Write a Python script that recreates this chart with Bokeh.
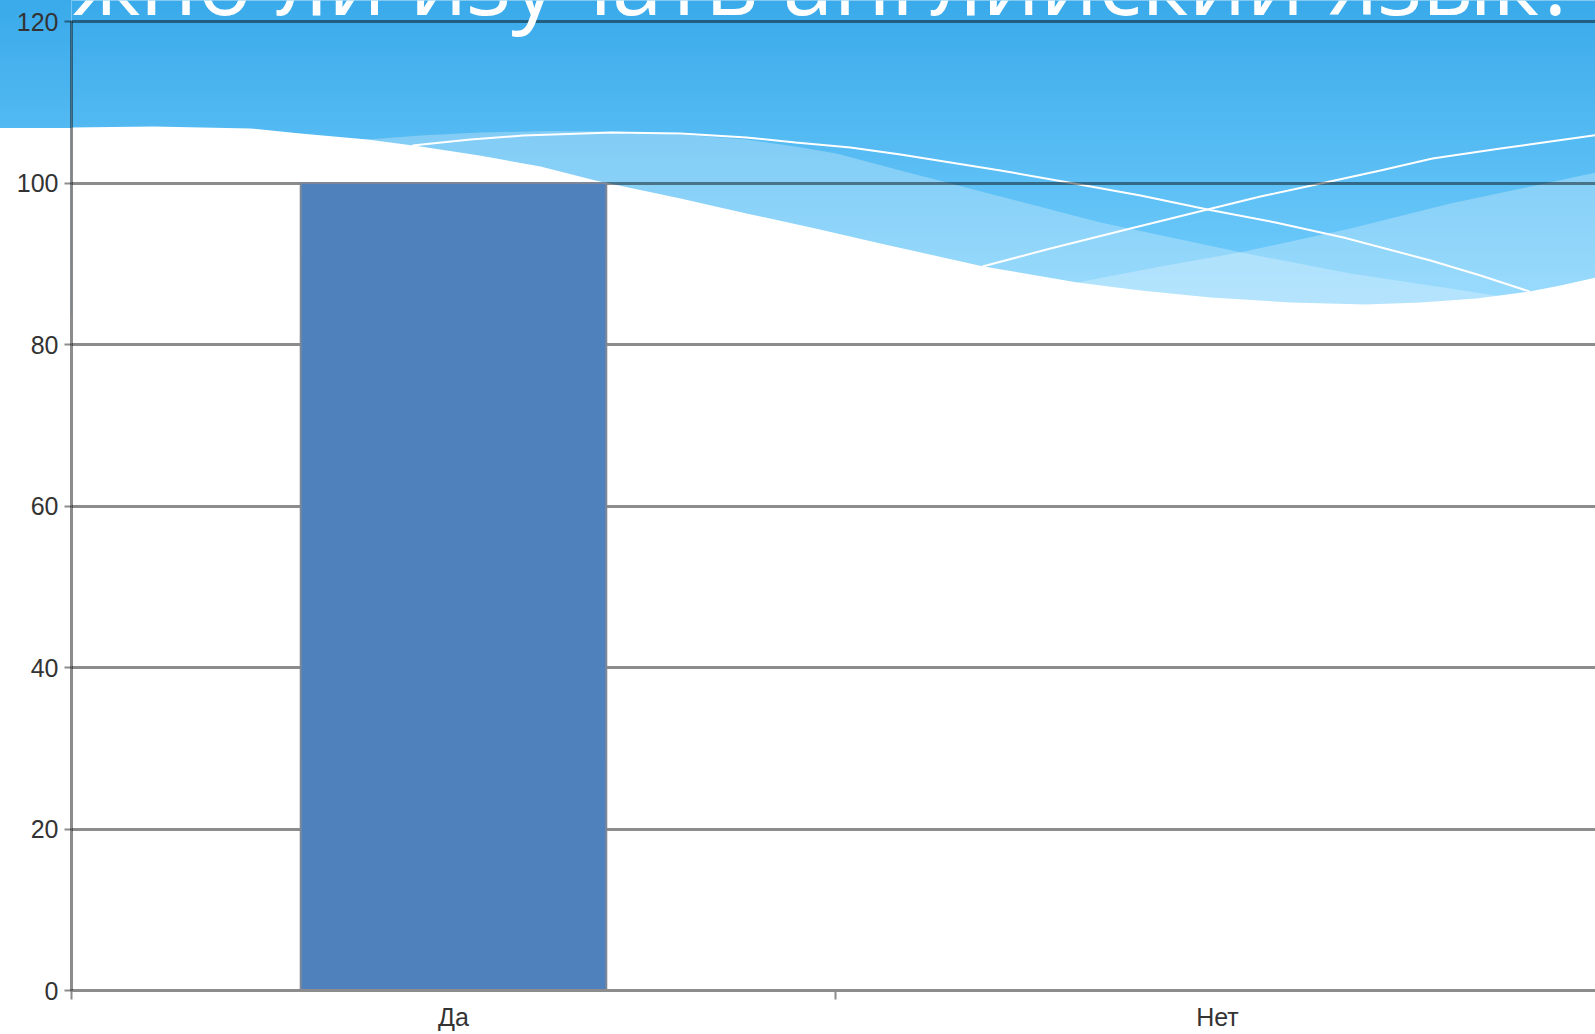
import numpy as np
from bokeh.plotting import figure
from bokeh.models import Range1d, FixedTicker, Label
from bokeh.embed import file_html
from bokeh.resources import INLINE

# ---------------- data ----------------
title_text = "Нужно ли изучать английский язык?"
categories = ["Да", "Нет"]
values = [100, 0]
y_ticks = [0, 20, 40, 60, 80, 100, 120]

# ---------------- layout (page pixels) ----------------
W, H = 1595, 1034
FL, FR, FB = 71, 1595, 990                   # frame left/right/bottom on the page (frame top = 0)
Y_TOP_PX = 21                                # page y of the value 120
CAT_W = 764                                  # pixels per category
x_end = (FR - FL) / CAT_W
y_end = y_ticks[-1] * FB / (FB - Y_TOP_PX)

xs = [i + 0.5 for i in range(len(categories))]
bounds = [float(i) for i in range(len(categories) + 1)]

p = figure(width=W, height=H, output_backend="svg", toolbar_location=None,
           x_range=Range1d(0, x_end), y_range=Range1d(0, y_end),
           min_border_left=FL, min_border_right=W - FR,
           min_border_top=0, min_border_bottom=H - FB)
p.extra_x_ranges = {"px": Range1d(FL, FR)}
p.extra_y_ranges = {"py": Range1d(-FB, 0)}
p.outline_line_color = None
p.border_fill_alpha = 0
p.background_fill_color = "white"


def grad(y):
    top = np.array([58, 170, 234], dtype=float)
    bot = np.array([102, 197, 248], dtype=float)
    c = top + (bot - top) * (y / 230.0)
    return "#%02x%02x%02x" % tuple(int(round(min(255, max(0, v)))) for v in c)


p.styles = {"background": "linear-gradient(to bottom, %s 0px, %s 128px, #ffffff 128px, #ffffff 100%%)"
            % (grad(0), grad(128))}

# ---------------- decorative header (slide background) ----------------
gy = np.arange(0, 314, 2)
p.quad(left=FL, right=FR, top=-gy, bottom=-(gy + 3), fill_color=[grad(v + 1) for v in gy],
       line_color=None, level="image", x_range_name="px", y_range_name="py")

bandA = [(300, 146), (367, 139), (420, 135), (479, 132), (550, 130.5), (612, 131), (680, 134),
         (746, 139), (795, 146), (836, 153), (900, 170), (1000, 196), (1100, 222), (1241, 252),
         (1350, 273), (1450, 288), (1520, 299), (1600, 320), (1600, 420), (300, 420)]
bandB = [(1000, 300), (1077, 282), (1160, 266), (1244, 251), (1350, 228), (1450, 203),
         (1530, 186), (1600, 171), (1600, 420), (1000, 420)]
for band in (bandA, bandB):
    p.patch([a for a, b in band], [-b for a, b in band], fill_color="white", fill_alpha=0.27,
            line_color=None, level="image", x_range_name="px", y_range_name="py")

white = [(0, 130), (71, 127), (153, 126), (250, 128), (300, 133), (367, 139), (420, 146),
         (479, 155), (540, 166), (595, 180), (680, 198), (746, 213), (815, 228), (880, 243),
         (983, 266), (1077, 282), (1140, 290), (1210, 297), (1290, 302), (1365, 304),
         (1420, 302), (1476, 298), (1529, 291), (1560, 285), (1600, 276), (1600, 1000), (0, 1000)]
p.patch([a for a, b in white], [-b for a, b in white], fill_color="white", line_color=None,
        level="image", x_range_name="px", y_range_name="py")

line1 = [(412, 145), (470, 139), (523, 135), (612, 132), (680, 133), (746, 137), (795, 142),
         (850, 147), (900, 154), (1000, 170), (1068, 182), (1140, 195), (1207, 209),
         (1275, 222), (1343, 237), (1430, 260), (1480, 275), (1529, 291)]
line2 = [(982, 266), (1050, 248), (1130, 228), (1207, 209), (1260, 196), (1325, 182),
         (1380, 170), (1432, 158), (1500, 148), (1550, 141), (1600, 134)]
for ln in (line1, line2):
    p.line([a for a, b in ln], [-b for a, b in ln], line_color="white", line_width=2,
           level="image", x_range_name="px", y_range_name="py")

# ---------------- chart ----------------
p.vbar(x=xs, top=values, bottom=0, width=0.4, fill_color="#4f81bd",
       line_color="#7d8797", line_width=2)

ax_col, ax_alpha = "black", 0.45
yax = p.yaxis[0]
yax.ticker = FixedTicker(ticks=y_ticks)
yax.bounds = (y_ticks[0], y_ticks[-1])
yax.axis_line_color = ax_col
yax.axis_line_alpha = ax_alpha
yax.axis_line_width = 3
yax.major_tick_in = 0
yax.major_tick_out = 7
yax.major_tick_line_color = ax_col
yax.major_tick_line_alpha = ax_alpha
yax.major_tick_line_width = 2
yax.minor_tick_line_color = None
yax.major_label_standoff = 6
yax.major_label_text_font = "Liberation Sans"
yax.major_label_text_font_size = "25px"
yax.major_label_text_color = "#333333"

xax = p.xaxis[0]
xax.ticker = FixedTicker(ticks=xs, minor_ticks=bounds)
xax.major_label_overrides = {x: c for x, c in zip(xs, categories)}
xax.axis_line_color = "#8c8c8c"
xax.axis_line_width = 3
xax.major_tick_line_color = None
xax.major_tick_in = 0
xax.major_tick_out = 5
xax.minor_tick_in = 0
xax.minor_tick_out = 9
xax.minor_tick_line_color = "#8c8c8c"
xax.minor_tick_line_width = 2
xax.major_label_standoff = 3
xax.major_label_text_font = "Liberation Sans"
xax.major_label_text_font_size = "25px"
xax.major_label_text_color = "#333333"

p.xgrid.grid_line_color = None
p.ygrid.ticker = FixedTicker(ticks=y_ticks[1:])
p.ygrid.grid_line_color = ax_col
p.ygrid.grid_line_alpha = ax_alpha
p.ygrid.grid_line_width = 3

# title of the slide (partly cut by the top edge, as on the slide)
p.add_layout(Label(x=1578 - FL, y=FB + 21, x_units="screen", y_units="screen", text=title_text,
                   text_align="right", text_baseline="alphabetic", text_color="white",
                   text_font="Open Sans", text_font_size="91px"))

open("out.html", "w").write(file_html(p, INLINE))
